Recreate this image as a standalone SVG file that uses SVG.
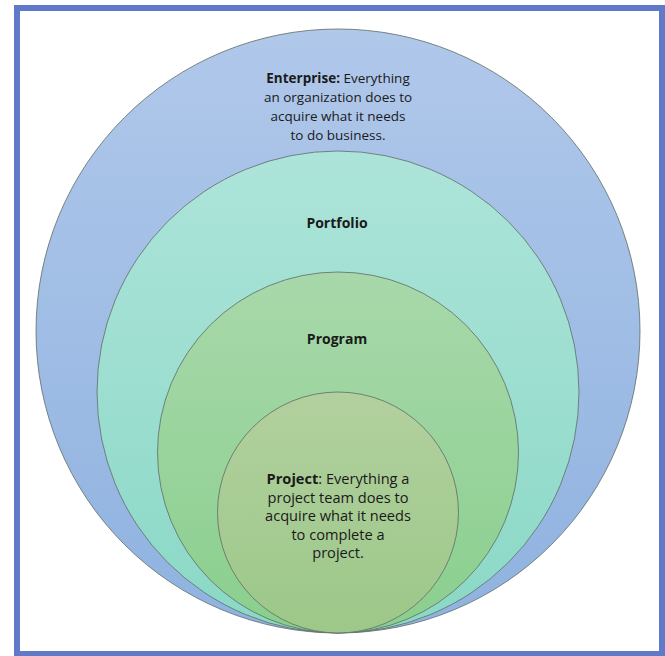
<svg xmlns="http://www.w3.org/2000/svg" width="665" height="656" viewBox="0 0 665 656">
<style>
.c{stroke:#5f6b66;stroke-width:0.8}
.t{font-family:"Open Sans","Liberation Sans",sans-serif;font-size:13.5px;fill:#1a1a1a;text-anchor:middle}
.p{font-size:14.6px}
.l{font-size:14px}
.b{font-weight:bold}
</style>
<defs>
<linearGradient id="g1" x1="0" y1="0" x2="0" y2="1"><stop offset="0" stop-color="#b0c8ea"/><stop offset="1" stop-color="#8fb2e0"/></linearGradient>
<linearGradient id="g2" x1="0" y1="0" x2="0" y2="1"><stop offset="0" stop-color="#ade4da"/><stop offset="1" stop-color="#8ad8c6"/></linearGradient>
<linearGradient id="g3" x1="0" y1="0" x2="0" y2="1"><stop offset="0" stop-color="#a8d8aa"/><stop offset="1" stop-color="#8acf8e"/></linearGradient>
<linearGradient id="g4" x1="0" y1="0" x2="0" y2="1"><stop offset="0" stop-color="#b2d09e"/><stop offset="1" stop-color="#9cc889"/></linearGradient>
</defs>
<rect x="0" y="0" width="665" height="656" fill="#ffffff"/>
<rect x="17" y="8" width="645" height="646" fill="#ffffff" stroke="#6079c9" stroke-width="6"/>
<g id="enterprise">
<circle class="c" cx="338" cy="331" r="302" fill="url(#g1)"/>
<text class="t" x="338" y="83"><tspan class="b">Enterprise:</tspan> Everything</text>
<text class="t" x="338" y="102">an organization does to</text>
<text class="t" x="338" y="121">acquire what it needs</text>
<text class="t" x="338" y="140">to do business.</text>
</g>
<g id="portfolio">
<circle class="c" cx="338" cy="392" r="241" fill="url(#g2)"/>
<text class="t l b" x="337" y="228">Portfolio</text>
</g>
<g id="program">
<circle class="c" cx="338" cy="452.5" r="180.5" fill="url(#g3)"/>
<text class="t l b" x="337" y="344">Program</text>
</g>
<g id="project">
<circle class="c" cx="338" cy="512.5" r="120.5" fill="url(#g4)"/>
<text class="t p" x="338" y="484"><tspan class="b">Project</tspan>: Everything a</text>
<text class="t p" x="338" y="502.5">project team does to</text>
<text class="t p" x="338" y="521">acquire what it needs</text>
<text class="t p" x="338" y="539.5">to complete a</text>
<text class="t p" x="338" y="558">project.</text>
</g>
<g id="connectors"/>
</svg>
